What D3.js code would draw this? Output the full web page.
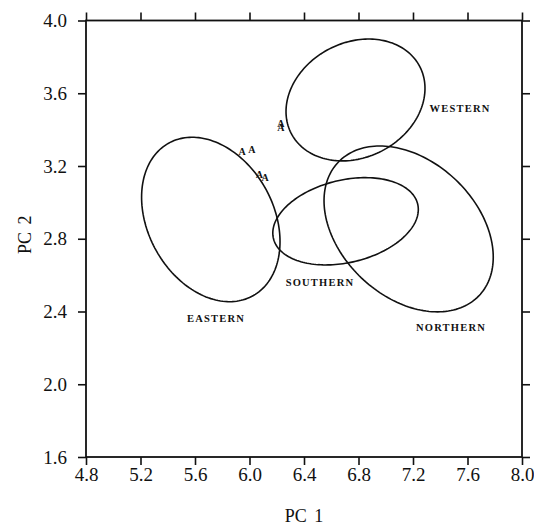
<!DOCTYPE html>
<html>
<head>
<meta charset="utf-8">
<script src="https://cdn.jsdelivr.net/npm/d3@7"></script>
<style>
  html, body { margin: 0; padding: 0; background: #fff; }
  svg { display: block; }
  text { font-family: "Liberation Serif", "Times New Roman", serif; fill: #111; }
</style>
</head>
<body>
<svg id="chart" width="534" height="528"></svg>
<script>
// Axis ticks
const xTicks = [4.8, 5.2, 5.6, 6.0, 6.4, 6.8, 7.2, 7.6, 8.0];
const yTicks = [1.6, 2.0, 2.4, 2.8, 3.2, 3.6, 4.0];

// Regional group ellipses on PC1 / PC2: centre, half-extent on each axis, correlation
const regions  = ["EASTERN", "SOUTHERN", "WESTERN", "NORTHERN"];
const centerX  = [5.716, 6.705, 6.778, 7.168];
const centerY  = [2.906, 2.896, 3.563, 2.854];
const spreadX  = [0.508, 0.534, 0.510, 0.621];
const spreadY  = [0.452, 0.240, 0.335, 0.456];
const corr     = [-0.27, 0.27, 0.19, -0.34];
const labelX   = [5.754, 6.517, 7.545, 7.479];
const labelY   = [2.362, 2.558, 3.519, 2.315];

// Individual specimens marked "A"
const pointX = [5.945, 6.018, 6.073, 6.114, 6.231, 6.231];
const pointY = [3.282, 3.293, 3.156, 3.137, 3.436, 3.409];

const svg = d3.select("#chart");
const plotLeft = 86, plotRight = 522, plotTop = 20.5, plotBottom = 457;

const x = d3.scaleLinear().domain([4.8, 8.0]).range([plotLeft, plotRight]);
const y = d3.scaleLinear().domain([1.6, 4.0]).range([plotBottom, plotTop]);

const fmt = d3.format(".1f");
const tickLen = 8;

// Frame
svg.append("rect")
  .attr("x", plotLeft).attr("y", plotTop)
  .attr("width", plotRight - plotLeft).attr("height", plotBottom - plotTop)
  .attr("fill", "none").attr("stroke", "#111").attr("stroke-width", 1.8);

function styleAxis(g, showLabels) {
  g.select(".domain").remove();
  g.selectAll(".tick line").attr("stroke", "#111").attr("stroke-width", 1.6);
  g.selectAll(".tick text")
    .style("font-size", "19px")
    .attr("fill", "#111");
  if (!showLabels) g.selectAll(".tick text").remove();
}

svg.append("g")
  .attr("transform", `translate(0,${plotBottom})`)
  .call(d3.axisBottom(x).tickValues(xTicks).tickFormat(fmt).tickSize(tickLen).tickPadding(3))
  .call(g => styleAxis(g, true));

svg.append("g")
  .attr("transform", `translate(0,${plotTop})`)
  .call(d3.axisTop(x).tickValues(xTicks).tickSize(tickLen))
  .call(g => styleAxis(g, false));

svg.append("g")
  .attr("transform", `translate(${plotLeft},0)`)
  .call(d3.axisLeft(y).tickValues(yTicks).tickFormat(fmt).tickSize(tickLen).tickPadding(11))
  .call(g => styleAxis(g, true));

svg.append("g")
  .attr("transform", `translate(${plotRight},0)`)
  .call(d3.axisRight(y).tickValues(yTicks).tickSize(tickLen))
  .call(g => styleAxis(g, false));

// Ellipses: bounding half-widths sx, sy with correlation r
const line = d3.line().curve(d3.curveLinearClosed);
function ellipsePoints(cx, cy, sx, sy, r) {
  const k = Math.sqrt(1 - r * r);
  const pts = [];
  const n = 180;
  for (let i = 0; i < n; i++) {
    const t = (i / n) * 2 * Math.PI;
    const px = cx + sx * Math.cos(t);
    const py = cy + sy * (r * Math.cos(t) + k * Math.sin(t));
    pts.push([x(px), y(py)]);
  }
  return pts;
}

const groups = regions.map((name, i) => ({
  name, cx: centerX[i], cy: centerY[i], sx: spreadX[i], sy: spreadY[i], r: corr[i],
  lx: labelX[i], ly: labelY[i]
}));

svg.append("g").selectAll("path")
  .data(groups)
  .join("path")
  .attr("d", d => line(ellipsePoints(d.cx, d.cy, d.sx, d.sy, d.r)))
  .attr("fill", "none")
  .attr("stroke", "#111")
  .attr("stroke-width", 1.6);

svg.append("g").selectAll("text")
  .data(groups)
  .join("text")
  .attr("x", d => x(d.lx))
  .attr("y", d => y(d.ly))
  .attr("dy", "0.35em")
  .attr("text-anchor", "middle")
  .style("font-size", "10.5px")
  .style("font-weight", "bold")
  .style("letter-spacing", "1.2px")
  .text(d => d.name);

// Specimen markers
svg.append("g").selectAll("text")
  .data(pointX.map((v, i) => [v, pointY[i]]))
  .join("text")
  .attr("x", d => x(d[0]))
  .attr("y", d => y(d[1]))
  .attr("dy", "0.35em")
  .attr("text-anchor", "middle")
  .style("font-size", "10px")
  .style("font-weight", "bold")
  .text("A");

// Axis titles
svg.append("text")
  .attr("x", (plotLeft + plotRight) / 2)
  .attr("y", 522)
  .attr("text-anchor", "middle")
  .style("font-size", "18px")
  .style("word-spacing", "3px")
  .text("PC 1");

svg.append("text")
  .attr("transform", `translate(31,${(plotTop + plotBottom) / 2 - 4}) rotate(-90)`)
  .attr("text-anchor", "middle")
  .style("font-size", "18px")
  .style("word-spacing", "3px")
  .text("PC 2");
</script>
</body>
</html>
